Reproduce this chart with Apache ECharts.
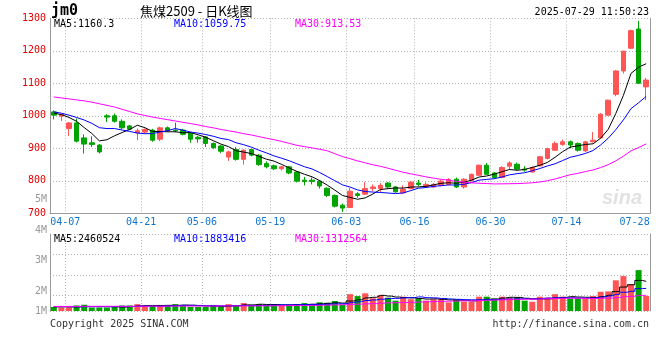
<!DOCTYPE html>
<html><head><meta charset="utf-8">
<script src="https://cdn.jsdelivr.net/npm/echarts@6/dist/echarts.min.js"></script>
<style>html,body{margin:0;padding:0;background:#fff}#c{width:660px;height:360px}</style>
</head><body><div id="c"></div>
<script>
const dates = ['04-03','04-07','04-08','04-09','04-10','04-11','04-14','04-15','04-16','04-17','04-18','04-21','04-22','04-23','04-24','04-25','04-28','04-29','04-30','05-06','05-07','05-08','05-09','05-12','05-13','05-14','05-15','05-16','05-19','05-20','05-21','05-22','05-23','05-26','05-27','05-28','05-29','05-30','06-03','06-04','06-05','06-06','06-09','06-10','06-11','06-12','06-13','06-16','06-17','06-18','06-19','06-20','06-23','06-24','06-25','06-26','06-27','06-30','07-01','07-02','07-03','07-04','07-07','07-08','07-09','07-10','07-11','07-14','07-15','07-16','07-17','07-18','07-21','07-22','07-23','07-24','07-25','07-28','07-29'];
const opens  = [1012,999,961,978,932,917,910,1000,1000,983,969,947,950,956,928,963,956,956,947,934,935,915,907,873,896,866,896,879,853,846,837,843,827,802,802,799,777,755,725,718,760,759,776,776,793,781,763,776,793,783,781,786,789,805,781,800,817,848,824,810,845,851,836,827,846,869,894,912,920,915,892,920,932,1002,1066,1138,1208,1267,1089];
const closes = [1002,1004,978,922,913,912,889,996,983,963,959,954,958,925,963,954,954,943,928,929,915,902,891,889,866,894,879,850,843,837,843,824,799,798,798,784,755,722,716,768,755,776,781,786,781,766,774,796,789,789,789,799,804,781,805,820,848,820,810,841,855,836,833,841,874,899,915,920,910,894,920,925,1005,1048,1138,1199,1262,1100,1110];
const lows   = [989,984,938,918,884,904,884,981,979,958,956,925,945,920,922,950,949,940,917,917,904,898,885,861,862,850,875,846,838,833,832,820,795,786,789,776,750,718,704,716,748,757,768,765,776,763,760,774,783,780,778,783,786,778,776,798,815,818,806,808,836,833,828,825,844,866,892,908,900,890,888,918,930,1000,1060,1130,1206,1100,1048];
const highs  = [1017,1006,981,992,943,937,913,1005,1007,989,972,961,961,960,967,967,979,960,950,938,938,918,910,893,904,897,899,882,860,850,846,846,830,812,810,803,780,758,730,778,765,796,789,793,796,784,786,799,803,795,793,803,808,810,808,822,850,855,827,845,860,856,845,844,877,902,921,927,924,918,923,950,1008,1050,1140,1200,1265,1292,1117];
const ma5  = [1008,1004,995,983,963.8,945.8,922.8,926.4,938.6,948.6,958,971,963.4,951.8,951.8,950.8,950.8,947.8,948.4,941.6,933.8,923.4,913,905.2,892.6,888.4,883.8,875.6,866.4,860.6,850.4,839.4,829.2,820.2,812.4,800.6,786.8,771.4,755,749,743.2,747.4,759.2,773.2,775.8,778,777.6,780.6,781.2,782.8,787.4,792.4,794,792.4,795.6,801.8,811.6,814.8,820.6,827.8,834.8,832.4,835,841.2,847.8,856.6,872.4,889.8,903.6,907.6,911.8,913.8,930.8,958.4,1007.2,1063,1130.4,1149.4,1160.3];
const ma10 = [1012,1008,1002,995,987,976.9,963.4,960.7,960.8,956.2,951.9,946.9,944.9,945.2,950.2,954.4,960.9,955.6,950.1,946.7,942.3,937.1,930.4,926.8,917.1,911.1,903.6,894.3,885.8,876.6,869.4,861.6,852.4,843.3,836.5,825.5,813.1,800.3,787.6,780.7,771.9,767.1,765.3,764.1,762.4,760.6,762.5,769.9,777.2,779.3,782.7,785,787.3,786.8,789.2,794.6,802,804.4,806.5,811.7,818.3,822,824.9,830.9,837.8,845.7,852.4,862.4,872.4,877.7,884.2,893.1,910.3,931,957.4,987.4,1022.1,1040.1,1059.75];
const ma30 = [1058,1055,1052,1049,1046,1042,1037,1032,1027,1020,1013,1006,1001,996,992,988,984,980,976,972,967,963,958,954,950,945,941,936,931,926.5,921.2,915.2,909.2,905.1,901.3,897,892.5,883.4,874.5,868,861.2,855.3,849.4,844.7,838.7,832.4,826.4,821.5,816.9,812.2,808,804.6,801.7,798.1,796,793.6,792.5,791.5,790.4,790.6,791,791.4,792.5,793.9,796.5,800.3,805.6,812.2,818.7,822.9,828.4,833.4,840.8,849.6,861.5,875.9,892.2,902.3,913.53];
// volume in millions
const volumes = [.34,.29,.29,.46,.52,.29,.29,.29,.34,.46,.46,.57,.40,.40,.49,.49,.57,.49,.34,.34,.34,.47,.34,.57,.49,.66,.49,.57,.49,.49,.49,.49,.57,.66,.57,.72,.68,.83,.52,1.40,1.24,1.47,1.06,1.31,1.11,.86,1.19,.98,1.04,.86,.98,.98,.72,.98,.77,.77,1.19,1.19,1.04,1.19,1.11,1.11,.86,.77,1.19,1.11,1.40,1.19,1.04,1.05,1.00,1.25,1.60,1.63,2.55,2.90,2.20,3.40,1.25];
const volMa5  = [.35,.35,.34,.35,.38,.37,.37,.37,.35,.33,.37,.42,.45,.46,.46,.47,.47,.49,.48,.45,.42,.40,.37,.41,.44,.51,.51,.56,.54,.54,.51,.51,.51,.54,.56,.60,.64,.69,.66,.83,.93,1.09,1.14,1.30,1.24,1.16,1.11,1.09,1.04,.99,1.01,.97,.92,.90,.89,.84,.89,.98,.99,1.08,1.14,1.13,1.06,1.01,1.01,1.01,1.07,1.13,1.19,1.16,1.14,1.11,1.19,1.31,1.61,1.99,2.18,2.54,2.46];
const volMa10 = [.36,.36,.36,.35,.36,.36,.36,.36,.36,.36,.37,.40,.41,.40,.40,.42,.45,.47,.47,.46,.44,.43,.43,.44,.44,.46,.45,.46,.48,.49,.51,.51,.53,.54,.55,.55,.57,.60,.60,.69,.77,.87,.92,.98,1.03,1.05,1.10,1.11,1.17,1.11,1.09,1.04,1.00,.97,.94,.93,.93,.95,.95,.98,.99,1.01,1.02,1.00,1.04,1.08,1.10,1.10,1.10,1.08,1.07,1.09,1.16,1.25,1.38,1.56,1.64,1.86,1.88];
const volMa30 = [.38,.38,.38,.38,.39,.39,.39,.39,.39,.39,.39,.40,.40,.40,.40,.40,.41,.41,.41,.41,.41,.41,.42,.42,.42,.42,.42,.43,.43,.43,.44,.45,.46,.46,.46,.48,.49,.51,.52,.55,.57,.60,.62,.65,.68,.69,.71,.72,.75,.77,.79,.80,.82,.83,.84,.84,.87,.89,.91,.93,.95,.97,.98,.98,1.00,1.02,1.04,1.05,1.07,1.06,1.05,1.04,1.06,1.07,1.12,1.19,1.22,1.30,1.31];
const tickLabels = ['04-07','04-21','05-06','05-19','06-03','06-16','06-30','07-14','07-28'];
const volTickLabels = ['1M','2M','3M','4M','5M'];
const priceMaLegend = ['MA5:1160.3','MA10:1059.75','MA30:913.53'];
const volMaLegend = ['MA5:2460524','MA10:1883416','MA30:1312564'];

const MONO = 'DejaVu Sans Mono';
const RED = '#ff5555', GREEN = '#00a400';
const GRIDC = '#b4b4b4', BORDER = '#9a9a9a';
const isTick = i => tickLabels.indexOf(dates[i]) >= 0;
const splitAt = i => i > 0 && isTick(i - 1) && dates[i - 1] !== '07-28';
const dotted = {show: true, lineStyle: {color: GRIDC, type: [1, 2], width: 1}};
const vSplit = {show: true, interval: (i) => splitAt(i), lineStyle: {color: GRIDC, type: [1, 2], width: 1}};

const chart = echarts.init(document.getElementById('c'));
const legendTexts = (arr, y) => arr.map((t, k) => ({
  type: 'text', x: [54, 174, 295][k], y: y, z: 100,
  style: {text: t, font: '10px "' + MONO + '"', fill: ['#000', '#0000ff', '#ff00ff'][k], verticalAlign: 'middle', align: 'left'}
}));

chart.setOption({
  animation: false,
  backgroundColor: '#fff',
  grid: [
    {left: 50, right: 10, top: 18.3, height: 195, outerBoundsMode: 'none'},
    {left: 50, right: 10, top: 234, height: 77, outerBoundsMode: 'none'},
    {left: 50, right: 10, top: 199, height: 112, outerBoundsMode: 'none'}
  ],
  xAxis: [
    {type: 'category', gridIndex: 0, data: dates, boundaryGap: true,
     axisLine: {onZero: false, lineStyle: {color: BORDER, width: 1}}, axisTick: {show: false},
     axisLabel: {interval: (i) => isTick(i), margin: 4, color: '#1177cc', fontFamily: MONO, fontSize: 10,
       formatter: (v) => v === '07-28' ? '{e|' + v + '}' : '{d|' + v + '}',
       rich: {d: {padding: [0, 0, 0, 7.6], color: '#1177cc', fontFamily: MONO, fontSize: 10},
              e: {padding: [0, 8, 0, 0], color: '#1177cc', fontFamily: MONO, fontSize: 10}}},
     splitLine: vSplit},
    {type: 'category', gridIndex: 1, data: dates, boundaryGap: true,
     axisLine: {show: false}, axisTick: {show: false}, axisLabel: {show: false}, splitLine: vSplit},
    {type: 'value', gridIndex: 2, show: false}
  ],
  yAxis: [
    {type: 'value', gridIndex: 0, min: 700, max: 1300, interval: 100,
     axisLine: {show: true, lineStyle: {color: BORDER}}, axisTick: {show: false},
     axisLabel: {color: '#e00000', fontFamily: MONO, fontSize: 10, margin: 4, padding: [0, 0, 4, 0], formatter: (v) => String(v)},
     splitLine: dotted},
    {type: 'value', gridIndex: 0, position: 'right', min: 700, max: 1300,
     axisLine: {show: true, lineStyle: {color: BORDER}}, axisTick: {show: false}, axisLabel: {show: false}, splitLine: {show: false}},
    {type: 'value', gridIndex: 1, min: 0, max: 6.4,
     axisLine: {show: true, lineStyle: {color: BORDER}}, axisTick: {show: false}, axisLabel: {show: false}, splitLine: {show: false}},
    {type: 'value', gridIndex: 1, position: 'right', inverse: true, min: 0, max: 3.756, interval: 1,
     axisLine: {show: true, lineStyle: {color: BORDER}}, axisTick: {show: false}, axisLabel: {show: false}, splitLine: dotted},
    {type: 'value', gridIndex: 2, min: 1, max: 5, interval: 1,
     axisLine: {show: false}, axisTick: {show: false}, splitLine: {show: false},
     axisLabel: {margin: 3, color: '#999', fontFamily: MONO, fontSize: 10,
       formatter: (v) => { const k = Math.round(v) - 1; return '{s' + k + '|' + volTickLabels[k] + '}'; },
       rich: {s0: {color: '#999', fontFamily: MONO, fontSize: 10},
              s1: {color: '#999', fontFamily: MONO, fontSize: 10, padding: [16, 0, 0, 0]},
              s2: {color: '#999', fontFamily: MONO, fontSize: 10, padding: [11, 0, 0, 0]},
              s3: {color: '#999', fontFamily: MONO, fontSize: 10, padding: [7, 0, 0, 0]},
              s4: {color: '#999', fontFamily: MONO, fontSize: 10}}}}
  ],
  series: [
    {type: 'candlestick', xAxisIndex: 0, yAxisIndex: 0, barWidth: 5, z: 3,
     data: dates.map((d, i) => [opens[i], closes[i], lows[i], highs[i]]),
     itemStyle: {color: RED, color0: GREEN, borderColor: RED, borderColor0: GREEN, borderWidth: 1}},
    {type: 'line', xAxisIndex: 0, yAxisIndex: 0, data: ma5, symbol: 'none', z: 4, lineStyle: {color: '#000', width: 1}},
    {type: 'line', xAxisIndex: 0, yAxisIndex: 0, data: ma10, symbol: 'none', z: 4, lineStyle: {color: '#0000ff', width: 1}},
    {type: 'line', xAxisIndex: 0, yAxisIndex: 0, data: ma30, symbol: 'none', z: 4, lineStyle: {color: '#ff00ff', width: 1}},
    {type: 'bar', xAxisIndex: 1, yAxisIndex: 2, barWidth: 6, z: 3,
     data: volumes.map((v, i) => ({value: v, itemStyle: {color: closes[i] >= opens[i] ? RED : GREEN}}))},
    {type: 'line', xAxisIndex: 1, yAxisIndex: 2, data: volMa5, step: 'middle', symbol: 'none', z: 4, lineStyle: {color: '#000', width: 1}},
    {type: 'line', xAxisIndex: 1, yAxisIndex: 2, data: volMa10, step: 'middle', symbol: 'none', z: 4, lineStyle: {color: '#0000ff', width: 1}},
    {type: 'line', xAxisIndex: 1, yAxisIndex: 2, data: volMa30, step: 'middle', symbol: 'none', z: 4, lineStyle: {color: '#ff00ff', width: 1}}
  ],
  graphic: [
    {type: 'text', x: 51, y: 11.5, style: {text: 'jm0', font: 'bold 15px "' + MONO + '"', fill: '#000', verticalAlign: 'middle'}},
    {type: 'text', x: 140, y: 11, style: {text: '焦煤2509 - 日K线图', font: '13px "Noto Sans CJK SC"', fill: '#000', verticalAlign: 'middle'}},
    {type: 'text', x: 649, y: 12.3, style: {text: '2025-07-29 11:50:23', font: '10px "' + MONO + '"', fill: '#000', verticalAlign: 'middle', align: 'right'}},
    {type: 'text', x: 602, y: 198, z: 1, style: {text: 'sina', font: 'italic bold 20px "Liberation Sans"', fill: '#e2e2e2', verticalAlign: 'middle'}},
    {type: 'text', x: 50, y: 324, style: {text: 'Copyright 2025 SINA.COM', font: '10px "' + MONO + '"', fill: '#333', verticalAlign: 'middle'}},
    {type: 'text', x: 649, y: 324, style: {text: 'http://finance.sina.com.cn', font: '10px "' + MONO + '"', fill: '#333', verticalAlign: 'middle', align: 'right'}}
  ].concat(legendTexts(priceMaLegend, 24.3), legendTexts(volMaLegend, 239.5))
});
</script>
</body></html>
